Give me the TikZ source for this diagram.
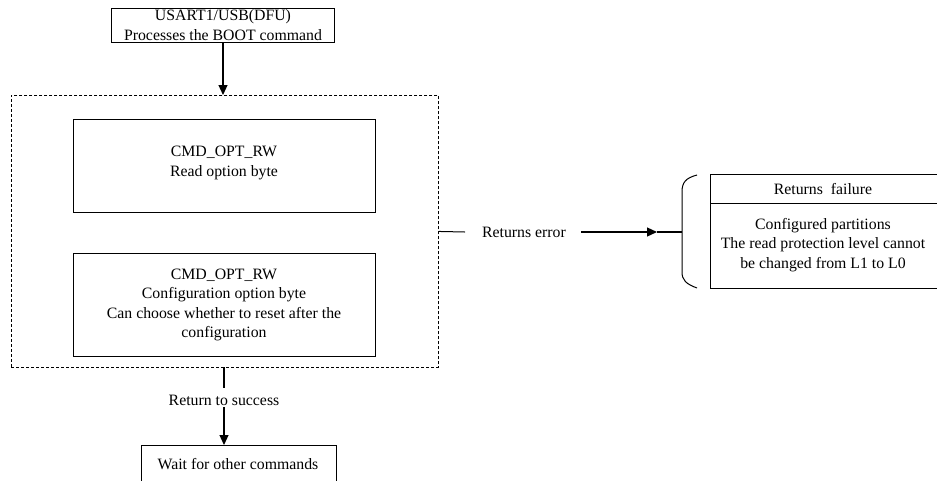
\documentclass[tikz,border=0pt]{standalone}
\usepackage{fontspec}
\setmainfont{Liberation Serif}
\usetikzlibrary{arrows.meta}
\begin{document}
\begin{tikzpicture}[x=1pt,y=-1pt,
  txt/.style={font=\fontsize{15.8}{19.5}\selectfont, align=center, inner sep=0pt},
  arr/.style={line width=1.2pt, -{Triangle[length=10pt,width=9pt]}},
  ln/.style={line width=0.9pt}]
\clip (0,0) rectangle (937,480);
\useasboundingbox (0,0) rectangle (937,480);
% top box
\node[draw, ln, minimum width=223pt, minimum height=34pt, anchor=north west, inner sep=0pt] (top) at (111,8) {};
\node[txt] (toptxt) at (223,25) {USART1/USB(DFU)\\Processes the BOOT command};
% dashed container
\node[draw, ln, dash pattern=on 3pt off 2pt, minimum width=427pt, minimum height=272pt, anchor=north west, inner sep=0pt] (grp) at (11,95) {};
% inner boxes
\node[draw, line width=1pt, minimum width=302pt, minimum height=93pt, anchor=north west, inner sep=0pt] (b1) at (73,119) {};
\node[txt] (b1t) at (224,163) {CMD\_OPT\_RW\\Read option byte};
\node[draw, line width=1pt, minimum width=302pt, minimum height=103pt, anchor=north west, inner sep=0pt] (b2) at (73,253) {};
\node[txt] (b2t) at (224,305) {CMD\_OPT\_RW\\Configuration option byte\\Can choose whether to reset after the\\configuration};
% bottom box
\node[draw, ln, minimum width=195pt, minimum height=40pt, anchor=north west, inner sep=0pt] (bot) at (141,445) {};
\node[txt] (bott) at (238,464) {Wait for other commands};
% right box
\node[draw, ln, minimum width=228pt, minimum height=114pt, anchor=north west, inner sep=0pt] (rb) at (710,174) {};
\draw[ln] (710,203) -- (938,203);
\node[txt] (rbh) at (823,189) {Returns\ \ failure};
\node[txt] (rbt) at (823,245) {Configured partitions\\The read protection level cannot\\be changed from L1 to L0};
% bracket
\draw[line width=1pt] (697,175) .. controls (686,178) and (682,182) .. (682,192) -- (682,272) .. controls (682,280) and (686,284) .. (697,288);
% labels
\node[txt] (err) at (524,232) {Returns error};
\node[txt] (succ) at (224,400) {Return to success};
\coordinate (brk) at (682,232);
% connectors
\draw[arr] (top.south -| 223,0) -- (223,95);
\draw[line width=1pt] (grp.east) -- (465,232);
\draw[arr] (581,232) -- (657,232);
\draw[line width=1.5pt] (657,232) -- (brk);
\draw[line width=1.2pt] (224,367) -- (224,388);
\draw[arr] (224,407) -- (224,445);
\end{tikzpicture}
\end{document}
